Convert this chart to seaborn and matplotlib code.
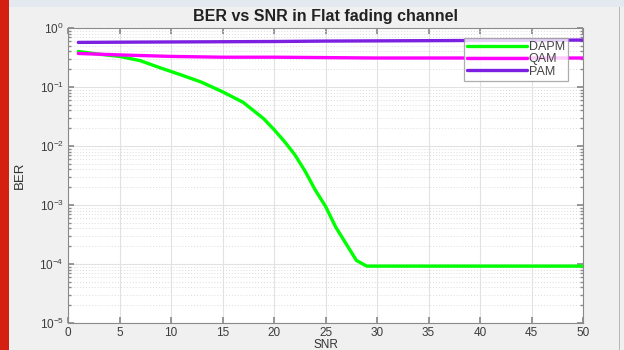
import numpy as np
import pandas as pd
import matplotlib
matplotlib.use("Agg")
import matplotlib.pyplot as plt
import seaborn as sns
from matplotlib.patches import Rectangle
from matplotlib.ticker import LogLocator, NullFormatter

# ---- data ----
dapm_snr = [1, 3, 5, 7, 9, 11, 13, 15, 17, 18, 19, 20, 21, 22, 23, 24, 25, 26, 27, 28, 29, 35, 40, 45, 50]
dapm_ber = [0.40, 0.36, 0.33, 0.28, 0.21, 0.16, 0.12, 0.083, 0.055, 0.040, 0.029, 0.019, 0.012,
            0.0072, 0.0038, 0.0018, 0.00095, 0.00042, 0.00022, 0.000115, 0.000092,
            0.000092, 0.000092, 0.000092, 0.000092]
qam_snr = [1, 5, 10, 15, 20, 25, 30, 35, 40, 45, 50]
qam_ber = [0.37, 0.35, 0.33, 0.32, 0.32, 0.315, 0.31, 0.31, 0.31, 0.31, 0.31]
pam_snr = [1, 5, 10, 15, 20, 25, 30, 35, 40, 45, 50]
pam_ber = [0.57, 0.575, 0.58, 0.585, 0.59, 0.60, 0.605, 0.61, 0.615, 0.62, 0.625]
series_names = ["DAPM", "QAM", "PAM"]
series_colors = ["#00ff00", "#ff00ff", "#7b1fe0"]
x_ticks = list(range(0, 55, 5))

frames = []
for name, xs, ys in zip(series_names, [dapm_snr, qam_snr, pam_snr], [dapm_ber, qam_ber, pam_ber]):
    frames.append(pd.DataFrame({"SNR": xs, "BER": ys, "Scheme": name}))
df = pd.concat(frames, ignore_index=True)

sns.set_theme(style="ticks")
plt.rcParams["font.family"] = ["Liberation Sans", "DejaVu Sans"]

fig = plt.figure(figsize=(6.24, 3.5), dpi=100, facecolor="#f0f0f0")
ax = fig.add_axes([68 / 624, 1 - 323 / 350, (583 - 68) / 624, (323 - 28) / 350])
ax.set_facecolor("white")

sns.lineplot(data=df, x="SNR", y="BER", hue="Scheme", hue_order=series_names,
             palette=series_colors, linewidth=2.4, ax=ax, sort=False)

ax.set_yscale("log")
ax.set_xlim(0, 50)
ax.set_ylim(1e-5, 1)
ax.set_xticks(x_ticks)
ax.yaxis.set_major_locator(LogLocator(base=10, numticks=10))
ax.yaxis.set_minor_locator(LogLocator(base=10, subs=np.arange(2, 10), numticks=20))
ax.yaxis.set_minor_formatter(NullFormatter())

ax.grid(True, which="major", color="#e2e2e2", linewidth=0.8, linestyle="-")
ax.grid(True, which="minor", axis="y", color="#dcdcdc", linewidth=0.7, linestyle=(0, (1, 2)))

ax.tick_params(which="both", direction="in", top=True, right=True, colors="#8a8a8a",
               labelcolor="#3c3c3c", labelsize=8.5)
ax.tick_params(which="major", length=4, pad=3)
ax.tick_params(which="minor", length=2)
for s in ax.spines.values():
    s.set_color("#8a8a8a")
    s.set_linewidth(0.8)

ax.set_title("BER vs SNR in Flat fading channel", fontsize=11.5, fontweight="bold",
             color="#222222", pad=5)
ax.set_xlabel("SNR", fontsize=8.5, color="#333333", labelpad=0)
ax.set_ylabel("BER", fontsize=9.5, color="#333333", labelpad=10)

leg = ax.legend(loc="upper right", bbox_to_anchor=(0.971, 0.966), fontsize=9, frameon=True,
                fancybox=False, edgecolor="#999999", handlelength=4.8, borderpad=0.25,
                labelspacing=0.02, handletextpad=0.15, borderaxespad=0)
leg.get_frame().set_linewidth(0.9)
for t in leg.get_texts():
    t.set_color("#444444")

# surrounding frame decoration
fig.patches.append(Rectangle((0, 0), 9 / 624, 1, transform=fig.transFigure,
                             facecolor="#d42010", edgecolor="none", zorder=-1))
fig.patches.append(Rectangle((9 / 624, 1 - 7 / 350), 1, 7 / 350, transform=fig.transFigure,
                             facecolor="#e4e9f0", edgecolor="none", zorder=-1))
fig.patches.append(Rectangle((619 / 624, 0), 1 / 624, 1 - 7 / 350, transform=fig.transFigure,
                             facecolor="#b8b8b8", edgecolor="none", zorder=-1))

fig.savefig("out.png", dpi=100, facecolor=fig.get_facecolor())
